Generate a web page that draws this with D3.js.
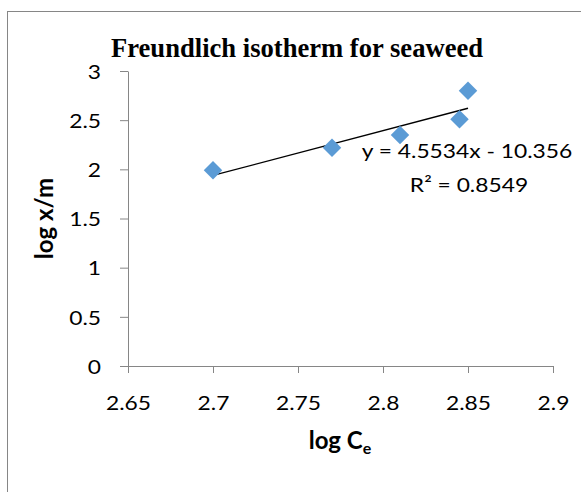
<!DOCTYPE html>
<html>
<head>
<meta charset="utf-8">
<script src="https://cdn.jsdelivr.net/npm/d3@7"></script>
<style>
  body { margin: 0; background: #fff; }
  text { font-family: Lato, "Open Sans", sans-serif; fill: #000; }
</style>
</head>
<body>
<div id="chart"></div>
<script>
const svgWidth = 581
const svgHeight = 492

// chart data
const logCe = [2.7, 2.77, 2.81, 2.845, 2.85]
const logXm = [1.99, 2.22, 2.35, 2.51, 2.8]
const xTicks = [2.65, 2.7, 2.75, 2.8, 2.85, 2.9]
const yTicks = [0, 0.5, 1, 1.5, 2, 2.5, 3]
const trendSlope = 4.5534
const trendIntercept = -10.356
const rSquared = 0.8549

const axisGrey = "#868686"
const pointBlue = "#5b9bd5"
// the sans text in the picture is a little wider than Lato
const widen = 1.14

let svg = d3
  .select("#chart")
  .append("svg")
  .attr("width", svgWidth)
  .attr("height", svgHeight)

// chart area border (runs off the right and bottom edges)
svg
  .append("rect")
  .attr("x", 7.5)
  .attr("y", 11.5)
  .attr("width", 620)
  .attr("height", 520)
  .attr("fill", "none")
  .attr("stroke", axisGrey)

let xScale = d3.scaleLinear().domain([2.65, 2.9]).range([128, 553])
let yScale = d3.scaleLinear().domain([0, 3]).range([366, 71])

/**
 * Stretches text horizontally so it matches the wider face of the original.
 **/
function stretch(selection, k) {
  selection.each(function() {
    let w = this.getComputedTextLength()
    d3.select(this)
      .attr("textLength", w * k)
      .attr("lengthAdjust", "spacingAndGlyphs")
  })
}

let xAxis = svg
  .append("g")
  .attr("transform", `translate(0, ${yScale(0)})`)
  .call(
    d3.axisBottom(xScale)
      .tickValues(xTicks)
      .tickFormat(d => String(d))
      .tickSize(7)
      .tickSizeOuter(0)
  )

xAxis.selectAll("text")
  .attr("y", 44)
  .attr("dy", null)
  .style("font-size", "20px")
  .call(stretch, widen)

let yAxis = svg
  .append("g")
  .attr("transform", `translate(${xScale(2.65)}, 0)`)
  .call(
    d3.axisLeft(yScale)
      .tickValues(yTicks)
      .tickFormat(d => String(d))
      .tickSize(8)
      .tickSizeOuter(0)
      .tickPadding(19)
  )

yAxis.selectAll("text")
  .attr("dy", "0.36em")
  .style("font-size", "20px")
  .call(stretch, widen)

svg.selectAll(".domain, .tick line").attr("stroke", axisGrey)

// linear trendline over the range of the data
let trendX = d3.extent(logCe)
svg
  .append("line")
  .attr("x1", xScale(trendX[0]))
  .attr("y1", yScale(trendSlope * trendX[0] + trendIntercept))
  .attr("x2", xScale(trendX[1]))
  .attr("y2", yScale(trendSlope * trendX[1] + trendIntercept))
  .attr("stroke", "#000")
  .attr("stroke-width", 1.3)

let diamond = d3.symbol().type(d3.symbolSquare).size(170)

svg
  .append("g")
  .selectAll("path")
  .data(logCe.map((x, i) => ({ x: x, y: logXm[i] })))
  .enter()
  .append("path")
  .attr("d", diamond)
  .attr("transform", d => `translate(${xScale(d.x)}, ${yScale(d.y)}) rotate(45)`)
  .attr("fill", pointBlue)

svg
  .append("text")
  .attr("x", 111)
  .attr("y", 57)
  .style("font-family", "'Liberation Serif', 'Times New Roman', serif")
  .style("font-weight", "bold")
  .style("font-size", "26.6px")
  .text("Freundlich isotherm for seaweed")

let eqGroup = svg.append("g").attr("text-anchor", "middle")

eqGroup
  .append("text")
  .attr("x", 467)
  .attr("y", 158)
  .style("font-size", "20px")
  .text(`y = ${trendSlope}x - ${Math.abs(trendIntercept)}`)
  .call(stretch, widen)

eqGroup
  .append("text")
  .attr("x", 469)
  .attr("y", 192)
  .style("font-size", "20px")
  .text(`R² = ${rSquared}`)
  .call(stretch, widen)

let xTitle = svg
  .append("text")
  .attr("x", 340)
  .attr("y", 449)
  .attr("text-anchor", "middle")
  .style("font-weight", "bold")
  .style("font-size", "24px")

xTitle.append("tspan").text("log C")
xTitle.append("tspan").attr("dy", 5).style("font-size", "16px").text("e")

svg
  .append("text")
  .attr("transform", `translate(53, ${yScale(1.5)}) rotate(-90)`)
  .attr("text-anchor", "middle")
  .style("font-weight", "bold")
  .style("font-size", "24px")
  .text("log x/m")
</script>
</body>
</html>
